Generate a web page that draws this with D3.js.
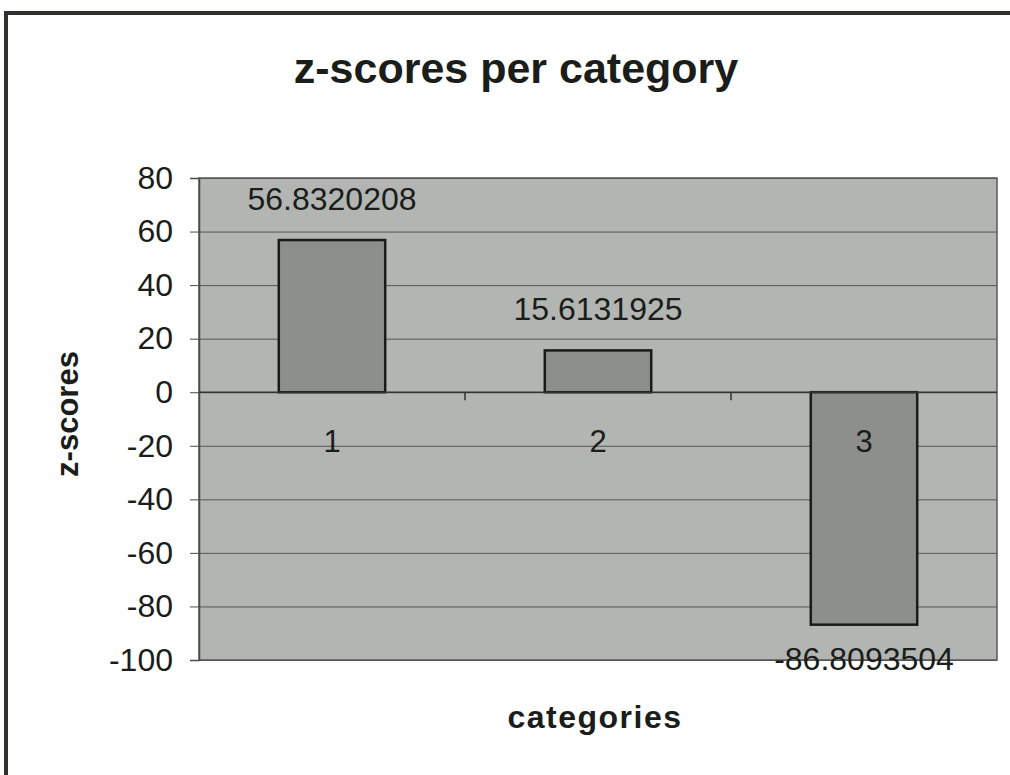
<!DOCTYPE html>
<meta charset="utf-8">
<html>
    <head>
        <script src="https://d3js.org/d3.v7.min.js"></script>
    </head>
    <style>
        body { margin: 0; background: #fff; }
        text { font-family: "Liberation Sans", Arial, sans-serif; fill: #1a1d1a; }
    </style>
    <body>

        <div id="bar_viz"></div>

        <script>

            var categories = ["1", "2", "3"];
            var zScores = [56.8320208, 15.6131925, -86.8093504];
            var yTicks = [80, 60, 40, 20, 0, -20, -40, -60, -80, -100];

            var width = 1010, height = 775;
            var marginLeft = 199, marginRight = 13, marginTop = 178, marginBottom = 115;

            var svg = d3.select("#bar_viz")
                .append("svg")
                .attr("width", width)
                .attr("height", height)
                .attr("viewBox", [0, 0, width, height]);

            // outer chart frame (runs past the right and bottom edges like the scan)
            svg.append("rect")
                .attr("x", 6).attr("y", 13)
                .attr("width", width).attr("height", height)
                .attr("fill", "none")
                .attr("stroke", "#2e332e")
                .attr("stroke-width", 4);

            var xScale = d3.scaleBand(categories, [marginLeft, width - marginRight])
                .paddingInner(0.6)
                .paddingOuter(0.3);
            var yScale = d3.scaleLinear([-100, 80], [height - marginBottom, marginTop]);

            // plot area
            svg.append("rect")
                .attr("x", marginLeft)
                .attr("y", marginTop)
                .attr("width", width - marginLeft - marginRight)
                .attr("height", yScale(-100) - yScale(80))
                .attr("fill", "#b2b5b2")
                .attr("stroke", "#5a5a5a")
                .attr("stroke-width", 1.5);

            // y axis with gridlines
            svg.append("g")
                .attr("transform", `translate(${marginLeft},0)`)
                .call(d3.axisLeft(yScale).tickValues(yTicks).tickSize(9).tickPadding(17)
                    .tickFormat(d => String(d)))
                .call(g => g.select(".domain").attr("stroke", "#4a4a4a").attr("stroke-width", 1.5))
                .call(g => g.selectAll(".tick line").attr("stroke", "#4a4a4a"))
                .call(g => g.selectAll(".tick line").clone()
                    .attr("x2", width - marginLeft - marginRight)
                    .attr("stroke", "#555"))
                .call(g => g.selectAll(".tick text")
                    .attr("font-size", 32)
                    .attr("fill", "#1a1d1a"));

            // bars
            svg.append("g")
                .selectAll("rect")
                .data(zScores)
                .join("rect")
                .attr("x", (d, i) => xScale(categories[i]))
                .attr("y", d => yScale(Math.max(0, d)))
                .attr("width", xScale.bandwidth())
                .attr("height", d => Math.abs(yScale(d) - yScale(0)))
                .attr("fill", "#8c8f8c")
                .attr("stroke", "#1a1a1a")
                .attr("stroke-width", 2.5);

            // category axis at zero, ticks between categories
            var xAxisG = svg.append("g")
                .attr("transform", `translate(0,${yScale(0)})`);
            xAxisG.append("line")
                .attr("x1", marginLeft).attr("x2", width - marginRight)
                .attr("stroke", "#333").attr("stroke-width", 1.5);
            xAxisG.selectAll(".sep")
                .data(categories.slice(1))
                .join("line")
                .attr("class", "sep")
                .attr("x1", d => xScale(d) - xScale.bandwidth() * 0.75)
                .attr("x2", d => xScale(d) - xScale.bandwidth() * 0.75)
                .attr("y1", 0).attr("y2", 8)
                .attr("stroke", "#333").attr("stroke-width", 1.5);
            xAxisG.selectAll(".cat")
                .data(categories)
                .join("text")
                .attr("class", "cat")
                .attr("x", d => xScale(d) + xScale.bandwidth() / 2)
                .attr("y", 60)
                .attr("text-anchor", "middle")
                .attr("font-size", 31)
                .text(d => d);

            // data labels
            svg.append("g")
                .selectAll("text")
                .data(zScores)
                .join("text")
                .attr("x", (d, i) => xScale(categories[i]) + xScale.bandwidth() / 2)
                .attr("y", d => d >= 0 ? yScale(d) - 30 : yScale(d) + 45)
                .attr("text-anchor", "middle")
                .attr("font-size", 32)
                .text(d => d.toString());

            // title
            svg.append("text")
                .attr("x", 516)
                .attr("y", 83)
                .attr("text-anchor", "middle")
                .attr("font-size", 43)
                .attr("font-weight", "bold")
                .text("z-scores per category");

            // axis titles
            svg.append("text")
                .attr("x", 595)
                .attr("y", 728)
                .attr("text-anchor", "middle")
                .attr("font-size", 32)
                .attr("font-weight", "bold")
                .attr("letter-spacing", 1.5)
                .text("categories");

            svg.append("text")
                .attr("transform", "translate(78,414) rotate(-90)")
                .attr("text-anchor", "middle")
                .attr("font-size", 31)
                .attr("font-weight", "bold")
                .text("z-scores");

        </script>
    </body>
</html>
